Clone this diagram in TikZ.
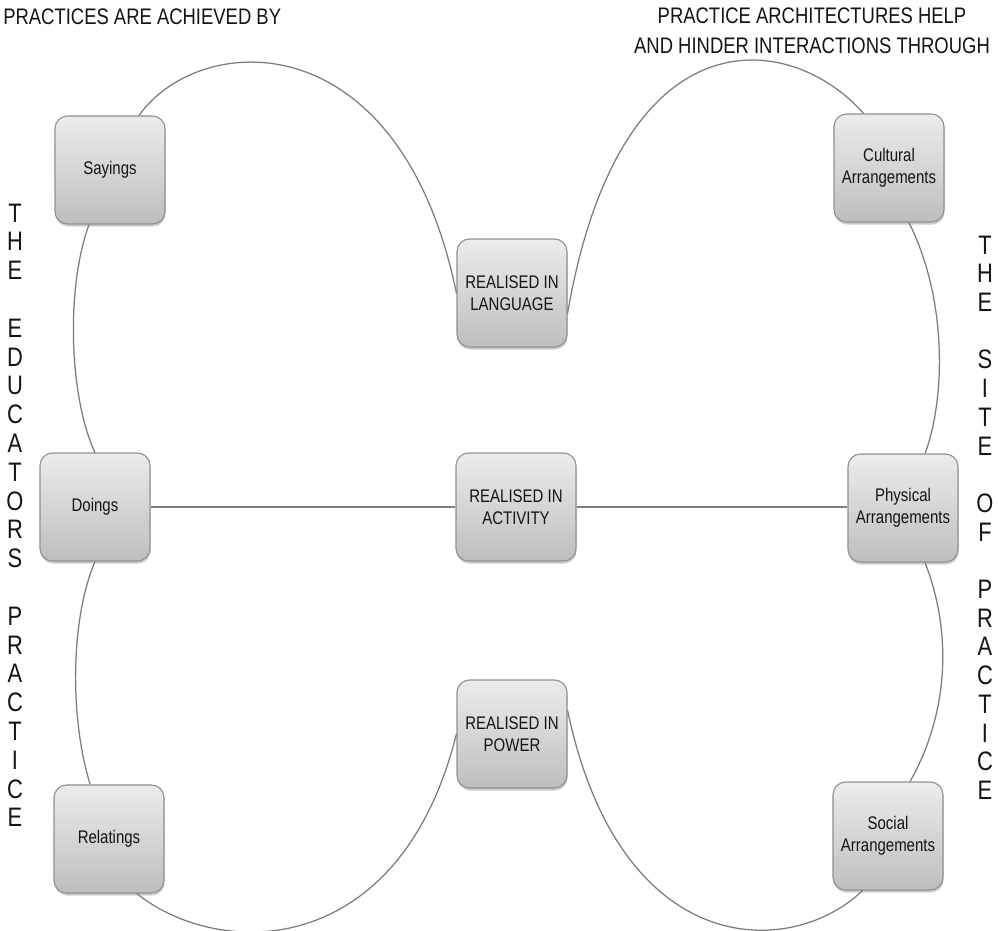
\documentclass[tikz,border=0pt]{standalone}
\usepackage{fontspec}
\setmainfont{Liberation Sans}[FakeStretch=0.82]
\usetikzlibrary{shadows, positioning}
\definecolor{boxedge}{RGB}{145,145,145}
\definecolor{boxtop}{RGB}{236,236,236}
\definecolor{boxbottom}{RGB}{190,190,190}
\definecolor{linkgray}{RGB}{125,125,125}
\definecolor{inkgray}{RGB}{20,20,20}

\tikzset{
  stage/.style={draw=boxedge, line width=0.8pt, rounded corners=9pt,
    top color=boxtop, bottom color=boxbottom,
    minimum width=2.75cm, minimum height=2.7cm, align=center,
    font=\fontsize{13}{15.5}\selectfont, text=inkgray,
    drop shadow={shadow xshift=0.4pt, shadow yshift=-1.8pt, opacity=0.4}},
  link/.style={draw=linkgray, line width=0.9pt},
  heading/.style={font=\fontsize{16}{21.3}\selectfont, text=inkgray, inner sep=0pt},
  vletter/.style={font=\fontsize{19}{20}\selectfont, text=inkgray, inner sep=0pt},
}

\begin{document}
\begin{tikzpicture}[x=0.025cm, y=-0.025cm]
  \useasboundingbox (0,0) rectangle (998,931);

  % Headings
  \node[heading, anchor=west] (achieved) at (3,17) {PRACTICES ARE ACHIEVED BY};
  \node[heading, align=center] (architectures) at (812,31) {PRACTICE ARCHITECTURES HELP\\AND HINDER INTERACTIONS THROUGH};

  % Side labels
  \foreach \ch [count=\i from 0] in {T,H,E,{},E,D,U,C,A,T,O,R,S,{},P,R,A,C,T,I,C,E}
    \node[vletter] (educ\i) at (15,{213+28.8*\i}) {\ch};
  \foreach \ch [count=\i from 0] in {T,H,E,{},S,I,T,E,{},O,F,{},P,R,A,C,T,I,C,E}
    \node[vletter] (site\i) at (985,{245+28.7*\i}) {\ch};

  % Practices (left)
  \node[stage] (sayings) at (110,170) {Sayings};
  \node[stage] (doings) at (95,507) {Doings};
  \node[stage] (relatings) at (109,839) {Relatings};

  % Realised in (middle)
  \node[stage] (language) at (512,293) {REALISED IN\\LANGUAGE};
  \node[stage, minimum width=3cm] (activity) at (516,507) {REALISED IN\\ACTIVITY};
  \node[stage] (power) at (512,734) {REALISED IN\\POWER};

  % Arrangements (right)
  \node[stage] (cultural) at (889,168) {Cultural\\Arrangements};
  \node[stage] (physical) at (903,508) {Physical\\Arrangements};
  \node[stage] (social) at (888,836) {Social\\Arrangements};

  % Upper loop
  \draw[link] (sayings.62) .. controls (200,30) and (400,20) .. (language.west);
  \draw[link] (language.-20) .. controls (620,10) and (790,30) .. (cultural.115);

  % Sides
  \draw[link] (sayings.-111) .. controls (65,290) and (70,400) .. (doings.90);
  \draw[link] (doings.-90) .. controls (70,620) and (70,720) .. (relatings.109);
  \draw[link] (cultural.-70) .. controls (948,300) and (945,400) .. (physical.68);
  \draw[link] (physical.-68) .. controls (955,640) and (945,720) .. (social.68);

  % Middle line
  \draw[link] (doings.east) -- (activity.west);
  \draw[link] (activity.east) -- (activity.east -| physical.west);

  % Lower loop
  \draw[link] (relatings.-63) .. controls (220,960) and (400,960) .. (power.west);
  \draw[link] (power.23) .. controls (620,960) and (790,960) .. (social.-115);
\end{tikzpicture}
\end{document}
